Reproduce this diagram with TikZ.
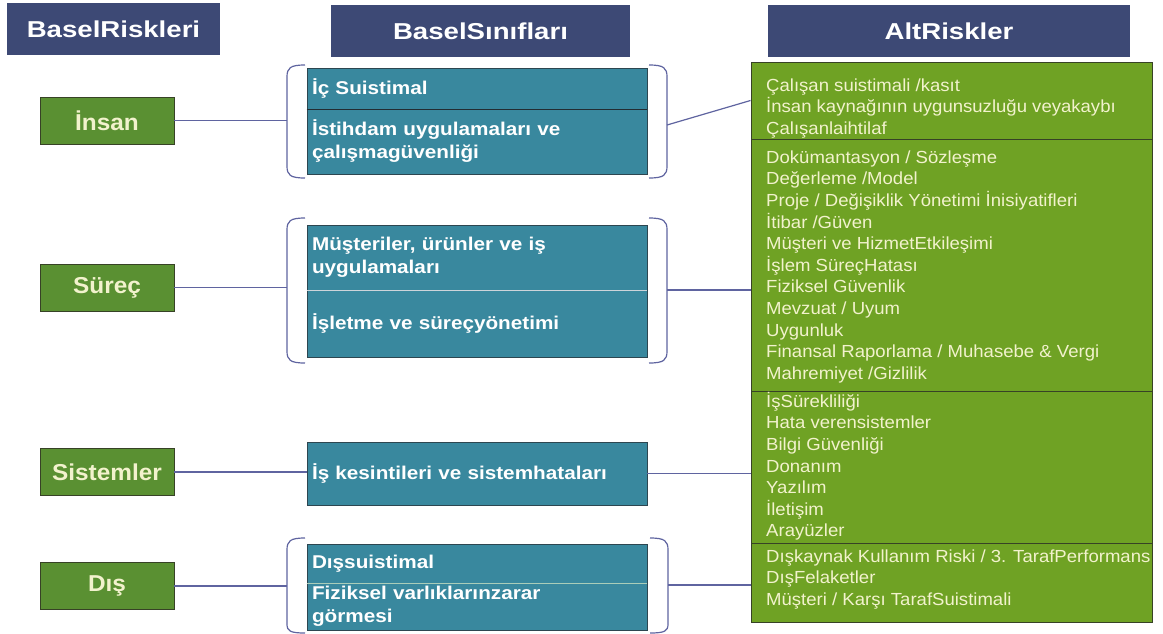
\documentclass[tikz,border=0pt]{standalone}
\usepackage{fontspec}
\setmainfont{Liberation Sans}
\newfontfamily\hdrfont{Liberation Sans}[FakeStretch=1.2]
\newfontfamily\lblfont{Liberation Sans}[FakeStretch=1.06]
\newfontfamily\tealfont{Liberation Sans}[FakeStretch=1.12]
\newfontfamily\listfont{Liberation Sans}[FakeStretch=1.06]
\definecolor{hdrblue}{RGB}{61,73,117}
\definecolor{lblgreen}{RGB}{90,144,50}
\definecolor{altgreen}{RGB}{111,162,36}
\definecolor{tealbox}{RGB}{57,136,158}
\definecolor{tealedge}{RGB}{45,70,80}
\definecolor{olive}{RGB}{55,66,38}
\definecolor{linkcol}{RGB}{95,100,160}
\definecolor{cream}{RGB}{242,242,205}
\newcommand{\firstline}{\rule{0pt}{16pt}}
\begin{document}
\begin{tikzpicture}[x=1pt,y=-1pt,
  hdr/.style={fill=hdrblue, text=white, inner sep=0pt,
    font=\hdrfont\bfseries\fontsize{23}{27}\selectfont},
  lbl/.style={fill=lblgreen, draw=olive, line width=0.9pt, text=cream,
    minimum width=134pt, minimum height=47pt, inner sep=0pt,
    font=\lblfont\bfseries\fontsize{23}{27}\selectfont},
  tealsec/.style={fill=tealbox, draw=tealedge, line width=0.8pt, text=white,
    minimum width=340pt, text width=330pt, align=left, inner xsep=5pt, inner ysep=1pt,
    font=\tealfont\bfseries\fontsize{18.5}{23}\selectfont},
  altsec/.style={fill=altgreen, draw=olive, line width=1pt,
    minimum width=401pt, inner sep=0pt},
  listtxt/.style={anchor=north west, inner sep=0pt, align=left, text=cream,
    font=\listfont\fontsize{17.5}{21.6}\selectfont},
  link/.style={draw=linkcol, line width=1.2pt},
  brk/.style={draw=linkcol, line width=1.2pt},
]
\useasboundingbox (0,0) rectangle (1163,633);
\fill[white] (0,0) rectangle (1163,633);

% column headers
\node[hdr, minimum width=213pt, minimum height=52pt] (hRisk) at (113.5,29) {BaselRiskleri};
\node[hdr, minimum width=299pt, minimum height=52pt] (hSinif) at (480.5,31) {BaselSınıfları};
\node[hdr, minimum width=362pt, minimum height=52pt] (hAlt) at (949,31) {AltRiskler};

% Basel risk categories
\node[lbl] (gInsan) at (107,120.5) {İnsan};
\node[lbl] (gSurec) at (107,287.5) {Süreç};
\node[lbl] (gSist) at (107,472) {Sistemler};
\node[lbl] (gDis) at (107,586) {Dış};

% Basel classes
\node[tealsec, minimum height=41pt] (t1a) at (477,88.5) {İç Suistimal};
\node[tealsec, minimum height=65pt] (t1b) at (477,141.5) {İstihdam uygulamaları ve\\çalışmagüvenliği};
\node[tealsec, minimum height=65pt] (t2a) at (477,257.5) {Müşteriler, ürünler ve iş\\uygulamaları};
\node[tealsec, minimum height=67pt] (t2b) at (477,323.5) {İşletme ve süreçyönetimi};
\node[tealsec, minimum height=63pt] (t3) at (477,473.5) {İş kesintileri ve sistemhataları};
\node[tealsec, minimum height=39pt] (t4a) at (477,563.5) {Dışsuistimal};
\node[tealsec, minimum height=47pt] (t4b) at (477,606.5) {Fiziksel varlıklarınzarar\\görmesi};

% dividers between stacked classes
\draw[draw={rgb,255:red,35;green,45;blue,50}, line width=1pt] (t1a.south west) -- (t1a.south east);
\draw[draw={rgb,255:red,205;green,212;blue,218}, line width=1.2pt] (t2a.south west) -- (t2a.south east);
\draw[draw={rgb,255:red,170;green,205;blue,185}, line width=1.5pt] (t4a.south west) -- (t4a.south east);

% brackets around grouped classes
\draw[brk] (305,65) .. controls (290,65) and (287,68) .. (287,77) -- (287,166) .. controls (287,175) and (290,178) .. (305,178);
\draw[brk] (649,65) .. controls (664,65) and (667,68) .. (667,77) -- (667,166) .. controls (667,175) and (664,178) .. (649,178);
\draw[brk] (305,218) .. controls (290,218) and (287,221) .. (287,230) -- (287,351) .. controls (287,360) and (290,363) .. (305,363);
\draw[brk] (649,218) .. controls (664,218) and (667,221) .. (667,230) -- (667,351) .. controls (667,360) and (664,363) .. (649,363);
\draw[brk] (305,538) .. controls (290,538) and (287,541) .. (287,550) -- (287,624) .. controls (287,631) and (290,633) .. (305,633);
\draw[brk] (650,538) .. controls (665,538) and (668,541) .. (668,550) -- (668,624) .. controls (668,631) and (665,633) .. (650,633);

\coordinate (b1l) at (287,122);
\coordinate (b1r) at (667,125);
\coordinate (b2l) at (287,288);
\coordinate (b2r) at (667,290);
\coordinate (b4l) at (287,585);
\coordinate (b4r) at (668,585);

% sub-risk panel
\node[altsec, minimum height=77pt] (a1) at (951.5,100.5) {};
\node[altsec, minimum height=252pt] (a2) at (951.5,265) {};
\node[altsec, minimum height=152pt] (a3) at (951.5,467) {};
\node[altsec, minimum height=79pt] (a4) at (951.5,582.5) {};

\node[listtxt] (l1) at (766,75) {\firstline Çalışan suistimali /kasıt\\İnsan kaynağının uygunsuzluğu veyakaybı\\Çalışanlaihtilaf};
\node[listtxt] (l2) at (766,147) {\firstline Dokümantasyon / Sözleşme\\Değerleme /Model\\Proje / Değişiklik Yönetimi İnisiyatifleri\\İtibar /Güven\\Müşteri ve HizmetEtkileşimi\\İşlem SüreçHatası\\Fiziksel Güvenlik\\Mevzuat / Uyum\\Uygunluk\\Finansal Raporlama / Muhasebe \& Vergi\\Mahremiyet /Gizlilik};
\node[listtxt] (l3) at (766,391) {\firstline İşSürekliliği\\Hata verensistemler\\Bilgi Güvenliği\\Donanım\\Yazılım\\İletişim\\Arayüzler};
\node[listtxt] (l4) at (766,546) {\firstline Dışkaynak Kullanım Riski / 3. TarafPerformans\\DışFelaketler\\Müşteri / Karşı TarafSuistimali};

% connectors
\draw[link] (gInsan.east) -- (gInsan.east -| b1l);
\draw[link] (gSurec.east) -- (gSurec.east -| b2l);
\draw[link] (gSist.east) -- (gSist.east -| t3.west);
\draw[link] (gDis.east) -- (gDis.east -| b4l);
\draw[link] (b1r) -- (a1.west);
\draw[link] (b2r) -- (b2r -| a2.west);
\draw[link] (t3.east) -- (t3.east -| a3.west);
\draw[link] (b4r) -- (b4r -| a4.west);
\end{tikzpicture}
\end{document}
